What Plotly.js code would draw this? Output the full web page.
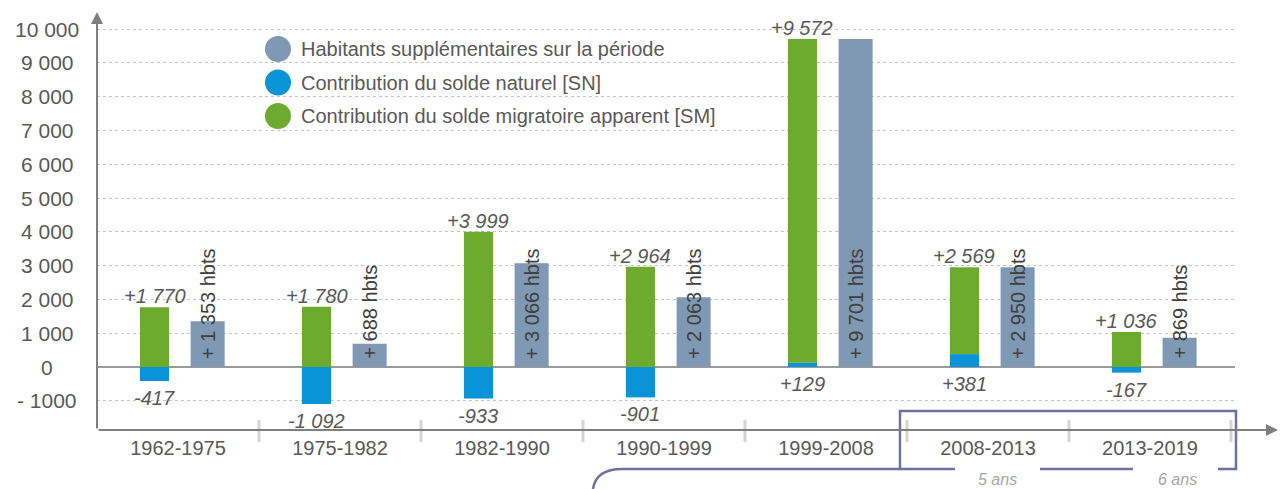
<!DOCTYPE html>
<html>
<head>
<meta charset="utf-8">
<script src="https://cdn.plot.ly/plotly-3.0.1.min.js"></script>
<style>html,body{margin:0;padding:0;background:#fff;}#chart{width:1284px;height:489px;}</style>
</head>
<body>
<div id="chart"></div>
<script>
// ---- data ----
const categories = ['1962-1975','1975-1982','1982-1990','1990-1999','1999-2008','2008-2013','2013-2019'];
const soldeMigratoire = [1770, 1780, 3999, 2964, 9572, 2569, 1036];
const soldeNaturel = [-417, -1092, -933, -901, 129, 381, -167];
const habitantsSupp = [1353, 688, 3066, 2063, 9701, 2950, 869];
const yTickVals = [-1000, 0, 1000, 2000, 3000, 4000, 5000, 6000, 7000, 8000, 9000, 10000];
const yTickText = ['- 1000', '0', '1 000', '2 000', '3 000', '4 000', '5 000', '6 000', '7 000', '8 000', '9 000', '10 000'];
const legendNames = ['Habitants supplémentaires sur la période', 'Contribution du solde naturel [SN]', 'Contribution du solde migratoire apparent [SM]'];
const durationLabels = ['5 ans', '6 ans'];

// ---- styles ----
const C_GRAY = '#7f98b3', C_BLUE = '#0a93d6', C_GREEN = '#6dab2e';
const legendColors = [C_GRAY, C_BLUE, C_GREEN];
const W = 1284, H = 489;
const M = {l: 97, r: 49, t: 12, b: 59};
const PW = W - M.l - M.r, PH = H - M.t - M.b;
const px2x = p => (p - M.l) / PW;
const py2y = p => (H - M.b - p) / PH;
const FONT = 'Liberation Sans, Arial, sans-serif';
const TXT = '#595959';

function fmt(v) {
  const s = Math.abs(v).toString().replace(/\B(?=(\d{3})+(?!\d))/g, ' ');
  return (v < 0 ? '-' : '+') + s;
}

const idx = categories.map((_, i) => i);
const G_OFF = -0.235, G_W = 0.18, R_OFF = 0.078, R_W = 0.21;

const traces = [
  {type: 'bar', x: idx, y: soldeNaturel, base: 0, offset: G_OFF, width: G_W,
   marker: {color: C_BLUE}, showlegend: false, hoverinfo: 'skip'},
  {type: 'bar', x: idx, y: soldeMigratoire, base: soldeNaturel.map(v => Math.max(0, v)), offset: G_OFF, width: G_W,
   marker: {color: C_GREEN}, showlegend: false, hoverinfo: 'skip'},
  {type: 'bar', x: idx, y: habitantsSupp, base: 0, offset: R_OFF, width: R_W,
   marker: {color: C_GRAY}, showlegend: false, hoverinfo: 'skip'}
];

const annotations = [];
// y tick labels (centered)
yTickVals.forEach((v, i) => {
  annotations.push({xref: 'paper', yref: 'y', x: px2x(47), y: v, text: yTickText[i], showarrow: false,
    xanchor: 'center', yanchor: 'middle', font: {family: FONT, size: 21, color: TXT}});
});
// data labels
idx.forEach(i => {
  const gx = i + G_OFF + G_W / 2;
  const top = Math.max(0, soldeNaturel[i]) + soldeMigratoire[i];
  annotations.push({x: gx, y: top, text: '<i>' + fmt(soldeMigratoire[i]) + '</i>', showarrow: false,
    xanchor: 'center', yanchor: 'bottom', yshift: -2, font: {family: FONT, size: 20, color: TXT}});
  annotations.push({x: gx, y: Math.min(0, soldeNaturel[i]), text: '<i>' + fmt(soldeNaturel[i]) + '</i>', showarrow: false,
    xanchor: 'center', yanchor: 'top', yshift: -4, font: {family: FONT, size: 20, color: TXT}});
  const rx = i + R_OFF + R_W / 2;
  annotations.push({x: rx, y: 0, text: '+ ' + fmt(habitantsSupp[i]).slice(1) + ' hbts', showarrow: false, textangle: -90,
    xanchor: 'center', yanchor: 'bottom', yshift: 6, font: {family: FONT, size: 20, color: '#3f3f3f'}});
});
// legend texts
legendNames.forEach((n, i) => {
  annotations.push({xref: 'paper', yref: 'paper', x: px2x(299), y: py2y(49 + i * 33.5), text: n, showarrow: false,
    xanchor: 'left', yanchor: 'middle', font: {family: FONT, size: 20, color: TXT}});
});
// axis arrows
annotations.push({xref: 'paper', yref: 'paper', x: 0, y: 1, ax: 0, ay: PH, axref: 'pixel', ayref: 'pixel', text: '',
  showarrow: true, arrowhead: 2, arrowsize: 1.2, arrowwidth: 2, arrowcolor: '#7f7f7f', standoff: 0});
annotations.push({xref: 'paper', yref: 'paper', x: px2x(1278), y: 0, ax: -(1278 - M.l), ay: 0, text: '',
  showarrow: true, arrowhead: 2, arrowsize: 1.2, arrowwidth: 2, arrowcolor: '#7f7f7f', standoff: 0});
// duration labels
durationLabels.forEach((t, i) => {
  annotations.push({xref: 'paper', yref: 'paper', x: px2x([997, 1177][i]), y: py2y(479), text: '<i>' + t + '</i>', showarrow: false,
    xanchor: 'center', yanchor: 'middle', font: {family: FONT, size: 16, color: '#a6a6a6'}});
});

const shapes = [];
// category separator ticks
for (let i = 0; i < categories.length; i++) {
  shapes.push({type: 'line', xref: 'x', yref: 'paper', x0: i + 0.5, x1: i + 0.5, y0: py2y(420), y1: py2y(442),
    line: {color: '#d4d4d4', width: 3}});
}
// legend circles
legendColors.forEach((c, i) => {
  const cy = 49 + i * 33.5;
  shapes.push({type: 'circle', xref: 'paper', yref: 'paper', x0: px2x(265), x1: px2x(291), y0: py2y(cy + 13), y1: py2y(cy - 13),
    fillcolor: c, line: {width: 0}});
});
// bracket
const P = (x, y) => px2x(x).toFixed(5) + ',' + py2y(y).toFixed(5);
const BR = '#6e729f';
shapes.push({type: 'path', xref: 'paper', yref: 'paper',
  path: 'M' + P(593, 489) + ' Q' + P(596, 469) + ' ' + P(622, 469) + ' L' + P(955, 469),
  line: {color: BR, width: 2.5}});
shapes.push({type: 'path', xref: 'paper', yref: 'paper',
  path: 'M' + P(900, 469) + ' L' + P(900, 411) + ' L' + P(1236, 411) + ' L' + P(1236, 469) + ' L' + P(1218, 469),
  line: {color: BR, width: 2.5}});
shapes.push({type: 'line', xref: 'paper', yref: 'paper', x0: px2x(1040), x1: px2x(1133), y0: py2y(469), y1: py2y(469),
  line: {color: BR, width: 2.5}});

const layout = {
  width: W, height: H, margin: M, paper_bgcolor: '#fff', plot_bgcolor: '#fff',
  barmode: 'overlay', showlegend: false,
  xaxis: {range: [-0.5, 6.525], tickvals: idx, ticktext: categories, ticks: '', showgrid: false, zeroline: false,
    showline: false, ticklabelstandoff: 4, tickfont: {family: FONT, size: 20, color: TXT}, fixedrange: true},
  yaxis: {range: [-1864, 10503], tickvals: yTickVals, showticklabels: false, ticks: '', showgrid: true,
    gridcolor: '#c4c4c4', griddash: 'dot', gridwidth: 1, zeroline: true, zerolinecolor: '#9a9a9a', zerolinewidth: 1.5,
    showline: false, fixedrange: true},
  annotations: annotations, shapes: shapes
};
Plotly.newPlot('chart', traces, layout, {staticPlot: true});
</script>
</body>
</html>
